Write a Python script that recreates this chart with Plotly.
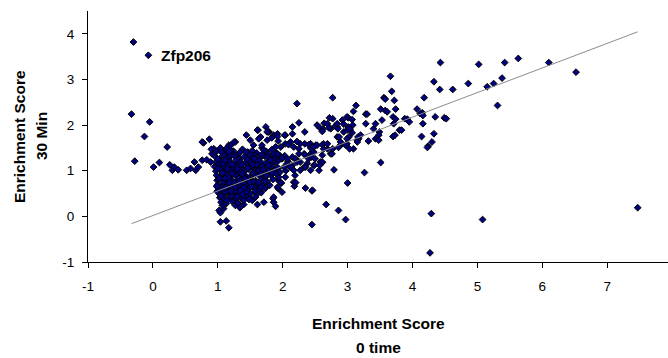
import plotly.graph_objects as go

# Enrichment scores per gene: (score at 0 time, score at 30 min)
labelled_gene = "Zfp206"
labelled_point = (-0.07, 3.53)

far_left = [
    (-0.30, 3.82), (-0.33, 2.24), (-0.05, 2.07), (-0.13, 1.75), (-0.28, 1.21),
    (0.01, 1.08), (0.10, 1.18), (0.22, 1.52), (0.26, 1.13), (0.30, 1.01),
    (0.33, 1.08), (0.39, 1.02), (0.52, 1.01), (0.58, 1.05), (0.64, 1.19),
    (0.66, 1.01), (0.70, 1.08), (0.76, 1.23), (0.78, 1.61), (0.83, 1.24),
    (0.87, 1.69), (0.89, 1.19), (0.91, 1.37), (0.94, 1.48), (0.76, 1.63),
    (0.90, 1.47),
]

low_scores = [
    (1.04, -0.12), (1.13, -0.10), (1.17, -0.25), (1.02, 0.13), (1.04, 0.08),
    (1.09, 0.17), (1.07, 0.24), (1.27, 0.24), (1.32, 0.28), (1.34, 0.19),
    (1.53, 0.35), (1.61, 0.26), (1.50, 0.42), (1.85, 0.39), (1.89, 0.22),
    (1.93, 0.61), (1.93, 0.79), (1.92, 0.64), (1.98, 0.73), (2.17, 0.75),
    (2.18, 0.66), (2.35, 0.62), (2.45, 0.56), (2.45, -0.18), (2.67, 0.26),
    (2.86, 0.13), (2.97, -0.07), (3.00, 0.73), (2.79, 1.02), (3.26, 0.96),
    (3.51, 1.18), (2.61, 1.18), (4.29, 0.06), (4.27, -0.80), (5.08, -0.07),
    (7.47, 0.19), (1.67, 0.52), (1.71, 0.31), (1.86, 0.31), (1.86, 0.42),
    (1.99, 0.53), (2.46, 0.57), (2.20, 0.74), (2.19, 0.90), (2.04, 0.86),
    (1.94, 0.86), (1.97, 0.74),
]

core = [
    (0.98, 1.42), (1.06, 1.40), (1.15, 1.38), (1.24, 1.43), (1.31, 1.36),
    (1.38, 1.47), (1.46, 1.41), (1.53, 1.44), (1.60, 1.39), (1.68, 1.50),
    (1.75, 1.42), (1.83, 1.46), (1.90, 1.40),
    (0.96, 1.31), (1.03, 1.27), (1.10, 1.33), (1.18, 1.29), (1.26, 1.32),
    (1.34, 1.26), (1.41, 1.31), (1.49, 1.28), (1.57, 1.34), (1.64, 1.27),
    (1.72, 1.32), (1.80, 1.29), (1.88, 1.31), (1.95, 1.34), (2.03, 1.33),
    (0.97, 1.19), (1.04, 1.22), (1.12, 1.17), (1.19, 1.21), (1.27, 1.16),
    (1.35, 1.20), (1.43, 1.18), (1.50, 1.22), (1.58, 1.16), (1.66, 1.20),
    (1.74, 1.17), (1.82, 1.14), (1.90, 1.18), (2.08, 1.21),
    (0.95, 1.09), (1.01, 1.12), (1.08, 1.06), (1.16, 1.11), (1.23, 1.07),
    (1.30, 1.10), (1.38, 1.05), (1.45, 1.12), (1.53, 1.08), (1.61, 1.06),
    (1.69, 1.10), (1.77, 1.04), (1.85, 1.08), (1.93, 1.06),
    (0.97, 0.99), (1.04, 1.02), (1.11, 0.97), (1.18, 1.01), (1.26, 0.96),
    (1.33, 1.00), (1.41, 0.98), (1.48, 1.03), (1.56, 0.97), (1.63, 1.00),
    (1.71, 0.95), (1.79, 0.99), (1.87, 1.01), (1.96, 0.97), (2.05, 1.00),
    (0.98, 0.90), (1.05, 0.87), (1.12, 0.92), (1.20, 0.88), (1.27, 0.91),
    (1.35, 0.86), (1.42, 0.90), (1.50, 0.87), (1.58, 0.92), (1.65, 0.88),
    (1.73, 0.85), (1.82, 0.90), (1.90, 0.93),
    (0.99, 0.79), (1.06, 0.82), (1.13, 0.77), (1.21, 0.81), (1.28, 0.76),
    (1.36, 0.80), (1.44, 0.78), (1.51, 0.83), (1.59, 0.77), (1.67, 0.80),
    (1.76, 0.76), (1.85, 0.81),
    (1.00, 0.70), (1.07, 0.67), (1.14, 0.72), (1.22, 0.68), (1.29, 0.71),
    (1.37, 0.66), (1.45, 0.70), (1.53, 0.73), (1.61, 0.67), (1.70, 0.71),
    (1.80, 0.68),
    (1.01, 0.60), (1.08, 0.57), (1.16, 0.62), (1.23, 0.58), (1.31, 0.61),
    (1.39, 0.56), (1.47, 0.60), (1.56, 0.63), (1.64, 0.58), (1.73, 0.61),
    (1.02, 0.50), (1.09, 0.47), (1.17, 0.52), (1.25, 0.48), (1.33, 0.51),
    (1.42, 0.46), (1.50, 0.50), (1.60, 0.48),
    (1.03, 0.41), (1.10, 0.38), (1.18, 0.42), (1.27, 0.37), (1.36, 0.40),
    (1.45, 0.43),
    (1.05, 0.31), (1.13, 0.28), (1.22, 0.33), (1.31, 0.29), (1.40, 0.26),
    (1.00, 1.25), (1.08, 1.16), (1.14, 1.26), (1.22, 1.14), (1.29, 1.24),
    (1.37, 1.13), (1.46, 1.25), (1.54, 1.14), (1.62, 1.24),
    (1.00, 1.05), (1.07, 0.95), (1.15, 1.04), (1.22, 0.94), (1.30, 1.04),
    (1.38, 0.93), (1.46, 1.06), (1.54, 0.94), (1.60, 1.13),
    (1.02, 0.84), (1.09, 0.75), (1.17, 0.85), (1.25, 0.74), (1.32, 0.84),
    (1.40, 0.73), (1.48, 0.82), (1.55, 0.76),
    (1.03, 0.64), (1.11, 0.54), (1.19, 0.65), (1.26, 0.55), (1.34, 0.66),
    (1.43, 0.53), (1.51, 0.65),
    (1.05, 0.45), (1.14, 0.35), (1.21, 0.45), (1.30, 0.43), (1.38, 0.48),
    (0.99, 0.55), (0.98, 0.66),
    (1.68, 1.36), (1.78, 1.36), (1.86, 1.24), (1.70, 1.03), (1.78, 1.12),
    (1.66, 0.93), (1.75, 0.90), (1.84, 0.96), (1.63, 0.73), (1.72, 0.77),
    (1.57, 0.55), (1.66, 0.64), (1.48, 0.37), (1.40, 0.35), (1.58, 0.42),
    (1.11, 1.23), (1.19, 1.34), (1.34, 1.40), (1.49, 1.35), (1.56, 1.27),
    (1.11, 0.83), (1.18, 0.74), (1.33, 0.76), (1.42, 0.83), (1.49, 0.75),
    (1.12, 0.63), (1.27, 0.64), (1.41, 0.63), (1.20, 0.55), (1.35, 0.57),
]

mid_band = [
    (1.74, 1.96), (1.79, 1.85), (1.76, 1.67), (1.86, 1.78), (1.92, 1.81),
    (2.04, 1.78), (2.04, 1.59), (2.12, 1.63), (2.17, 1.52), (2.27, 1.59),
    (2.43, 1.59), (2.51, 1.56), (2.63, 1.59), (2.69, 1.48), (2.74, 1.37),
    (2.84, 1.74), (2.89, 1.56), (2.99, 1.59), (3.02, 1.74), (3.09, 1.48),
    (3.15, 1.67),
    (1.71, 1.45), (1.76, 1.30), (1.81, 1.23), (1.86, 1.37), (1.94, 1.23),
    (1.99, 1.26), (2.02, 1.08), (2.07, 1.16), (2.15, 1.12), (2.17, 1.01),
    (2.22, 1.23), (2.27, 1.19), (2.33, 1.08), (2.38, 1.16), (2.43, 1.01),
    (2.48, 1.12), (2.56, 1.01), (2.58, 1.19), (2.61, 1.34), (2.76, 1.37),
    (2.43, 1.37), (2.33, 1.37), (2.48, 1.41), (1.97, 1.52), (1.89, 1.52),
    (1.62, 1.89), (1.83, 1.72), (1.93, 1.65), (2.09, 1.57), (2.22, 1.64),
    (2.25, 1.48), (2.34, 1.59), (2.40, 1.57), (2.43, 1.50), (2.48, 1.52),
    (2.53, 1.56), (2.61, 1.57), (2.63, 1.48), (2.77, 1.48), (2.25, 1.37),
    (2.34, 1.35), (2.40, 1.26), (2.45, 1.30), (2.50, 1.26), (2.61, 1.19),
    (2.49, 1.12), (2.57, 1.12), (1.92, 1.37), (1.99, 1.28), (2.07, 1.26),
    (2.15, 1.30), (2.20, 1.26), (2.22, 1.19), (2.12, 1.08), (2.27, 1.01),
    (2.35, 1.08),
    (1.04, 1.48), (1.12, 1.45), (1.17, 1.56), (1.20, 1.45), (1.27, 1.63),
    (1.44, 1.78), (1.61, 1.89), (1.66, 1.74), (1.78, 1.85), (1.92, 1.75),
    (1.76, 1.85), (2.03, 1.78), (1.04, 1.50), (1.14, 1.50), (1.20, 1.56),
    (1.17, 1.41), (1.06, 1.41), (1.25, 1.63), (1.50, 1.67), (1.55, 1.56),
    (1.43, 1.41), (1.63, 1.70), (1.68, 1.56),
]

high_scores = [
    (2.22, 2.47), (2.25, 2.05), (2.15, 1.96), (2.34, 1.85), (2.15, 1.81),
    (2.53, 2.00), (2.58, 1.93), (2.62, 1.91), (2.64, 2.04), (2.72, 2.16),
    (2.74, 1.92), (2.69, 2.03), (2.71, 1.94), (2.61, 1.86), (2.77, 2.60),
    (2.77, 2.14), (2.84, 1.96), (2.81, 1.98), (2.85, 1.92), (2.94, 1.85),
    (2.99, 1.89), (2.92, 2.11), (2.94, 2.02), (3.01, 2.16), (3.07, 2.12),
    (3.01, 1.96), (3.04, 1.89), (2.84, 2.03), (2.99, 2.18), (3.08, 2.00),
    (3.03, 1.92), (2.87, 1.74), (2.89, 1.63), (2.99, 1.70), (3.07, 1.83),
    (3.17, 1.70), (3.15, 1.63), (2.97, 1.56), (2.86, 1.51), (3.03, 1.48),
    (2.69, 1.59), (3.13, 2.43), (3.09, 2.30), (3.28, 2.24), (3.30, 2.24),
    (3.28, 2.03), (3.20, 1.78), (3.16, 1.74), (3.40, 1.92), (3.49, 1.85),
    (3.48, 1.78), (3.43, 1.70), (3.32, 1.65), (3.48, 1.67), (3.43, 2.03),
    (3.51, 2.35), (3.58, 2.32), (3.61, 2.29), (3.74, 2.35), (3.53, 2.11),
    (3.70, 2.18), (3.74, 2.13), (3.88, 2.14), (3.92, 2.13), (3.95, 2.07),
    (3.71, 2.03), (3.56, 2.60), (3.58, 2.57), (3.72, 2.54), (3.66, 3.07),
    (3.68, 2.74), (3.70, 1.75), (3.73, 1.78), (3.80, 1.89), (3.83, 1.89),
    (4.07, 2.35), (4.12, 2.25), (4.15, 2.27), (4.16, 2.21), (4.16, 2.03),
    (4.35, 2.18), (4.49, 2.16), (4.52, 2.14), (4.18, 2.60), (4.33, 2.95),
    (4.42, 2.78), (4.43, 3.37), (4.62, 2.78), (4.86, 2.91), (5.02, 3.33),
    (5.15, 2.84), (5.25, 2.91), (5.38, 3.03), (5.31, 2.43), (5.42, 3.37),
    (5.63, 3.46), (6.10, 3.37), (6.52, 3.16), (4.14, 1.75), (4.33, 1.81),
    (4.30, 1.63), (4.24, 1.54), (4.23, 1.51),
]

# Linear trend of 30 min score against 0 time score
trend_slope = 0.539
trend_intercept = 0.018

x_ticks = [-1, 0, 1, 2, 3, 4, 5, 6, 7]
x_tick_labels = ["-1", "0", "1", "2", "3", "4", "5", "6", "7"]
x_edge_label = "8"
y_ticks = [-1, 0, 1, 2, 3, 4]
y_tick_labels = ["-1", "0", "1", "2", "3", "4"]

points = [labelled_point] + far_left + low_scores + core + mid_band + high_scores
xs = [p[0] for p in points]
ys = [p[1] for p in points]

FONT = "Liberation Sans, Arial, sans-serif"

fig = go.Figure()
fig.add_trace(go.Scatter(
    x=xs, y=ys, mode="markers",
    marker=dict(symbol="diamond", size=5.2, color="#000080",
                line=dict(color="#000000", width=1)),
    hoverinfo="x+y", showlegend=False,
))

x_lo, x_hi = min(xs), max(xs)
fig.add_trace(go.Scatter(
    x=[x_lo, x_hi],
    y=[trend_slope * x_lo + trend_intercept, trend_slope * x_hi + trend_intercept],
    mode="lines", line=dict(color="#8c8c8c", width=1),
    hoverinfo="skip", showlegend=False,
))

axis_common = dict(
    showgrid=False, zeroline=False, showline=True, linecolor="#000000",
    linewidth=1, ticks="outside", ticklen=5, tickcolor="#000000",
    tickfont=dict(family=FONT, size=13.5, color="#000000"),
)

fig.update_layout(
    width=668, height=358,
    margin=dict(l=88, r=0, t=11, b=96),
    paper_bgcolor="#ffffff", plot_bgcolor="#ffffff",
    xaxis=dict(range=[-1, -1 + 580 / 64.9], tickvals=x_ticks,
               ticktext=x_tick_labels, ticklabelstandoff=7, **axis_common),
    yaxis=dict(range=[-1, 4.5], tickvals=y_ticks,
               ticktext=y_tick_labels, ticklabelstandoff=5, **axis_common),
    annotations=[
        dict(x=labelled_point[0] + 0.17, y=labelled_point[1], xref="x", yref="y",
             text="<b>%s</b>" % labelled_gene, showarrow=False,
             xanchor="left", yanchor="middle",
             font=dict(family=FONT, size=15.5, color="#000000")),
        dict(x=1.0062, y=-0.092, xref="paper", yref="paper", text=x_edge_label,
             showarrow=False, xanchor="center", yanchor="middle",
             font=dict(family=FONT, size=13.5, color="#000000")),
        dict(x=0.5, y=-0.245, xref="paper", yref="paper",
             text="<b>Enrichment Score</b>", showarrow=False,
             xanchor="center", yanchor="middle",
             font=dict(family=FONT, size=15.5, color="#000000")),
        dict(x=0.5, y=-0.34, xref="paper", yref="paper",
             text="<b>0 time</b>", showarrow=False,
             xanchor="center", yanchor="middle",
             font=dict(family=FONT, size=15.5, color="#000000")),
        dict(x=-0.118, y=0.5, xref="paper", yref="paper",
             text="<b>Enrichment Score</b>", showarrow=False, textangle=-90,
             xanchor="center", yanchor="middle",
             font=dict(family=FONT, size=15.5, color="#000000")),
        dict(x=-0.080, y=0.5, xref="paper", yref="paper",
             text="<b>30 Min</b>", showarrow=False, textangle=-90,
             xanchor="center", yanchor="middle",
             font=dict(family=FONT, size=15.5, color="#000000")),
    ],
)

fig.write_html("out.html")
